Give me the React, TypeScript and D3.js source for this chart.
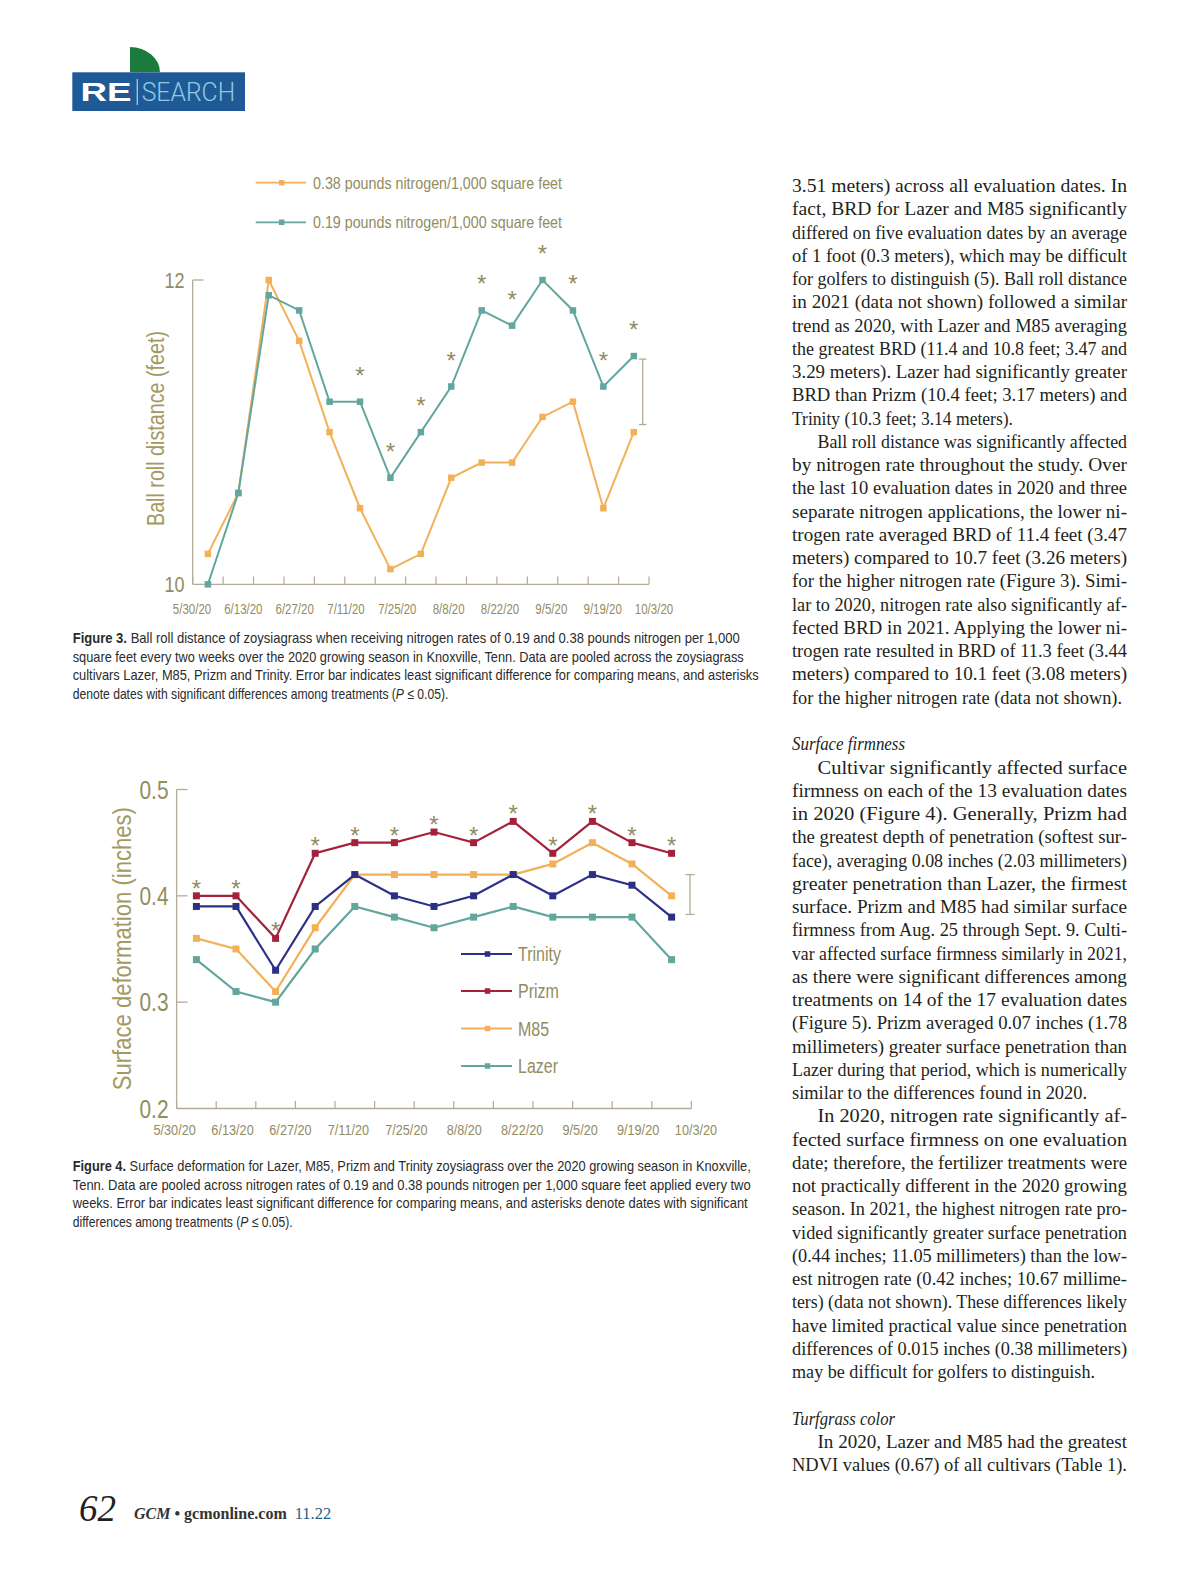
import React from 'react';
import * as d3 from 'd3';

// ---------- DATA ----------
const dateLabels = ['5/30/20', '6/13/20', '6/27/20', '7/11/20', '7/25/20', '8/8/20', '8/22/20', '9/5/20', '9/19/20', '10/3/20'];

// Figure 3: ball roll distance (feet), 15 evaluation dates
const brdHighN = [10.2, 10.6, 12.0, 11.6, 11.0, 10.5, 10.1, 10.2, 10.7, 10.8, 10.8, 11.1, 11.2, 10.5, 11.0];
const brdLowN = [10.0, 10.6, 11.9, 11.8, 11.2, 11.2, 10.7, 11.0, 11.3, 11.8, 11.7, 12.0, 11.8, 11.3, 11.5];
const brdSig = [false, false, false, false, false, true, true, true, true, true, true, true, true, true, true];
const brdLsd = [11.05, 11.48];
const brdTicks = [10, 12];

// Figure 4: surface deformation (inches), 13 evaluation dates
const trinity = [0.39, 0.39, 0.33, 0.39, 0.42, 0.40, 0.39, 0.40, 0.42, 0.40, 0.42, 0.41, 0.38];
const prizm = [0.40, 0.40, 0.36, 0.44, 0.45, 0.45, 0.46, 0.45, 0.47, 0.44, 0.47, 0.45, 0.44];
const m85 = [0.36, 0.35, 0.31, 0.37, 0.42, 0.42, 0.42, 0.42, 0.42, 0.43, 0.45, 0.43, 0.40];
const lazer = [0.34, 0.31, 0.30, 0.35, 0.39, 0.38, 0.37, 0.38, 0.39, 0.38, 0.38, 0.38, 0.34];
const sdSig = [true, true, true, true, true, true, true, true, true, true, true, true, true];
const sdLsd = [0.3825, 0.42];
const sdTicks = [0.2, 0.3, 0.4, 0.5];

const brdSeriesNames = ['0.38 pounds nitrogen/1,000 square feet', '0.19 pounds nitrogen/1,000 square feet'];
const sdSeriesNames = ['Trinity', 'Prizm', 'M85', 'Lazer'];

// ---------- STYLE ----------
const OLIVE = '#928c5f';
const TITLE = '#a39a63';
const AXIS = '#b3ab96';
const ORANGE = '#f2b158';
const TEAL = '#63a69d';
const NAVY = '#2c3085';
const RED = '#a3213b';
const SANS = "'Liberation Sans', Arial, Helvetica, sans-serif";
const SERIF = "'Liberation Serif', 'Times New Roman', serif";
const TEXT = '#231f20';
const NARROW_K = 0.82;

const bodyLines: [string, string, number?][] = [
  ['3.51 meters) across all evaluation dates. In', 'j'],
  ['fact, BRD for Lazer and M85 significantly', 'j'],
  ['differed on five evaluation dates by an average', 'j'],
  ['of 1 foot (0.3 meters), which may be difficult', 'j'],
  ['for golfers to distinguish (5). Ball roll distance', 'j'],
  ['in 2021 (data not shown) followed a similar', 'j'],
  ['trend as 2020, with Lazer and M85 averaging', 'j'],
  ['the greatest BRD (11.4 and 10.8 feet; 3.47 and', 'j'],
  ['3.29 meters). Lazer had significantly greater', 'j'],
  ['BRD than Prizm (10.4 feet; 3.17 meters) and', 'j'],
  ['Trinity (10.3 feet; 3.14 meters).', 'l', 221],
  ['Ball roll distance was significantly affected', 'ji'],
  ['by nitrogen rate throughout the study. Over', 'j'],
  ['the last 10 evaluation dates in 2020 and three', 'j'],
  ['separate nitrogen applications, the lower ni-', 'j'],
  ['trogen rate averaged BRD of 11.4 feet (3.47', 'j'],
  ['meters) compared to 10.7 feet (3.26 meters)', 'j'],
  ['for the higher nitrogen rate (Figure 3). Simi-', 'j'],
  ['lar to 2020, nitrogen rate also significantly af-', 'j'],
  ['fected BRD in 2021. Applying the lower ni-', 'j'],
  ['trogen rate resulted in BRD of 11.3 feet (3.44', 'j'],
  ['meters) compared to 10.1 feet (3.08 meters)', 'j'],
  ['for the higher nitrogen rate (data not shown).', 'l', 330],
  ['', 'b'],
  ['Surface firmness', 'h', 113],
  ['Cultivar significantly affected surface', 'ji'],
  ['firmness on each of the 13 evaluation dates', 'j'],
  ['in 2020 (Figure 4). Generally, Prizm had', 'j'],
  ['the greatest depth of penetration (softest sur-', 'j'],
  ['face), averaging 0.08 inches (2.03 millimeters)', 'j'],
  ['greater penetration than Lazer, the firmest', 'j'],
  ['surface. Prizm and M85 had similar surface', 'j'],
  ['firmness from Aug. 25 through Sept. 9. Culti-', 'j'],
  ['var affected surface firmness similarly in 2021,', 'j'],
  ['as there were significant differences among', 'j'],
  ['treatments on 14 of the 17 evaluation dates', 'j'],
  ['(Figure 5). Prizm averaged 0.07 inches (1.78', 'j'],
  ['millimeters) greater surface penetration than', 'j'],
  ['Lazer during that period, which is numerically', 'j'],
  ['similar to the differences found in 2020.', 'l', 295],
  ['In 2020, nitrogen rate significantly af-', 'ji'],
  ['fected surface firmness on one evaluation', 'j'],
  ['date; therefore, the fertilizer treatments were', 'j'],
  ['not practically different in the 2020 growing', 'j'],
  ['season. In 2021, the highest nitrogen rate pro-', 'j'],
  ['vided significantly greater surface penetration', 'j'],
  ['(0.44 inches; 11.05 millimeters) than the low-', 'j'],
  ['est nitrogen rate (0.42 inches; 10.67 millime-', 'j'],
  ['ters) (data not shown). These differences likely', 'j'],
  ['have limited practical value since penetration', 'j'],
  ['differences of 0.015 inches (0.38 millimeters)', 'j'],
  ['may be difficult for golfers to distinguish.', 'l', 303],
  ['', 'b'],
  ['Turfgrass color', 'h', 103],
  ['In 2020, Lazer and M85 had the greatest', 'ji'],
  ['NDVI values (0.67) of all cultivars (Table 1).', 'j'],
];

const fig3Caption = [
  'Ball roll distance of zoysiagrass when receiving nitrogen rates of 0.19 and 0.38 pounds nitrogen per 1,000',
  'square feet every two weeks over the 2020 growing season in Knoxville, Tenn. Data are pooled across the zoysiagrass',
  'cultivars Lazer, M85, Prizm and Trinity. Error bar indicates least significant difference for comparing means, and asterisks',
  'denote dates with significant differences among treatments (',
];
const fig4Caption = [
  'Surface deformation for Lazer, M85, Prizm and Trinity zoysiagrass over the 2020 growing season in Knoxville,',
  'Tenn. Data are pooled across nitrogen rates of 0.19 and 0.38 pounds nitrogen per 1,000 square feet applied every two',
  'weeks. Error bar indicates least significant difference for comparing means, and asterisks denote dates with significant',
  'differences among treatments (',
];

// condensed sans text (Arial compressed horizontally, like Helvetica Condensed)
function NT({ x, y, size, anchor = 'start', fill, rotate, children, middle }: any) {
  const tr = `translate(${x},${y})${rotate ? ` rotate(${rotate})` : ''} scale(${NARROW_K},1)`;
  return (
    <text transform={tr} x={0} y={0} dy={middle ? '0.36em' : undefined} textAnchor={anchor} fontFamily={SANS} fontSize={size} fill={fill}>
      {children}
    </text>
  );
}

function Caption({ label, lines, x, y0, lh, widths }: any) {
  return (
    <g fontFamily={SANS} fontSize={14.8} fill="#2b2b2b">
      {lines.map((t: string, i: number) => {
        const last = i === lines.length - 1;
        if (last) {
          return (
            <text key={i} transform={`translate(${x},${y0 + i * lh}) scale(${NARROW_K},1)`} x={0} y={0}>
              {t}<tspan fontStyle="italic">P</tspan>{' \u2264 0.05).'}
            </text>
          );
        }
        return (
          <text key={i} x={x} y={y0 + i * lh} textLength={widths[i]} lengthAdjust="spacingAndGlyphs">
            {i === 0 && <tspan fontWeight="bold">{label} </tspan>}
            {t}
          </text>
        );
      })}
    </g>
  );
}

function Marker({ x, y, s, color }: any) {
  return <rect x={x - s / 2} y={y - s / 2} width={s} height={s} fill={color} />;
}

export default function App() {
  // ---------- Figure 3 scales ----------
  const idx1 = d3.range(brdHighN.length);
  const x1 = d3.scaleBand<number>().domain(idx1).range([192.7, 649]).padding(0);
  const cx1 = (i: number) => (x1(i) as number) + x1.bandwidth() / 2;
  const y1 = d3.scaleLinear().domain([10, 12]).range([584.3, 280]);
  const lab1 = d3.scalePoint<string>().domain(dateLabels).range([192, 654]);
  const line1 = d3.line<number>().x((d, i) => cx1(i)).y(d => y1(d));
  const ticks1 = d3.range(brdHighN.length + 1).map(i => 192.7 + i * x1.bandwidth());

  // ---------- Figure 4 scales ----------
  const idx2 = d3.range(prizm.length);
  const x2 = d3.scaleBand<number>().domain(idx2).range([176.6, 691.4]).padding(0);
  const cx2 = (i: number) => (x2(i) as number) + x2.bandwidth() / 2;
  const y2 = d3.scaleLinear().domain([0.2, 0.5]).range([1108.5, 789.5]);
  const lab2 = d3.scalePoint<string>().domain(dateLabels).range([174.6, 696]);
  const line2 = d3.line<number>().x((d, i) => cx2(i)).y(d => y2(d));
  const ticks2 = d3.range(prizm.length + 1).map(i => 176.6 + i * x2.bandwidth());

  const brdSeries = [
    { name: brdSeriesNames[0], values: brdHighN, color: ORANGE },
    { name: brdSeriesNames[1], values: brdLowN, color: TEAL },
  ];
  const sdSeries = [
    { name: sdSeriesNames[0], values: trinity, color: NAVY },
    { name: sdSeriesNames[1], values: prizm, color: RED },
    { name: sdSeriesNames[2], values: m85, color: ORANGE },
    { name: sdSeriesNames[3], values: lazer, color: TEAL },
  ];
  const sdDrawOrder = [3, 2, 0, 1];

  const colX = 792, colW = 335, indent = 25.5, lineH = 23.26, base0 = 192;

  return (
    <svg width={1200} height={1582} style={{ position: 'absolute', left: 0, top: 0, display: 'block' }}>
      <rect width={1200} height={1582} fill="#ffffff" />

      {/* Header logo */}
      <path d="M130,72.3 L130,47 A30,25.3 0 0 1 160,72.3 Z" fill="#1a7b3d" />
      <rect x={72.3} y={72.3} width={172.7} height={38.7} fill="#205a96" />
      <text x={80.5} y={100.7} fontFamily={SANS} fontWeight="bold" fontSize={25.5} fill="#ffffff" textLength={51} lengthAdjust="spacingAndGlyphs">RE</text>
      <line x1={137.3} x2={137.3} y1={79} y2={105} stroke="#8ccbe2" strokeWidth={1.4} />
      <text x={141.7} y={100.7} fontFamily="Roboto, 'Liberation Sans', sans-serif" fontWeight={300} fontSize={25} fill="#8ccbe2" textLength={93.5} lengthAdjust="spacingAndGlyphs">SEARCH</text>

      {/* ---------- Figure 3 ---------- */}
      <g>
        {brdSeries.map((s, k) => {
          const ly = [182.7, 222.3][k];
          return (
            <g key={s.name}>
              <line x1={255.7} x2={306} y1={ly} y2={ly} stroke={s.color} strokeWidth={1.8} />
              <Marker x={281.7} y={ly} s={5.5} color={s.color} />
              <text x={313} y={ly} dy="0.36em" fontFamily={SANS} fontSize={16.5} fill={OLIVE} textLength={249} lengthAdjust="spacingAndGlyphs">{s.name}</text>
            </g>
          );
        })}
        {/* axes */}
        <line x1={192.7} x2={192.7} y1={280} y2={584.3} stroke={AXIS} strokeWidth={1.3} />
        <line x1={192.7} x2={203.5} y1={280} y2={280} stroke={AXIS} strokeWidth={1.3} />
        <line x1={192.7} x2={649} y1={584.3} y2={584.3} stroke={AXIS} strokeWidth={1.3} />
        {ticks1.map((t, i) => (
          <line key={i} x1={t} x2={t} y1={584.3} y2={576.5} stroke={AXIS} strokeWidth={1.2} />
        ))}
        {brdTicks.map(t => (
          <NT key={t} x={184.5} y={y1(t)} middle anchor="end" size={22} fill={OLIVE}>{t}</NT>
        ))}
        {dateLabels.map(l => (
          <NT key={l} x={lab1(l)} y={613.5} anchor="middle" size={14} fill={OLIVE}>{l}</NT>
        ))}
        <text transform="translate(163.5,428.5) rotate(-90)" textAnchor="middle" fontFamily={SANS} fontSize={23} fill={TITLE} textLength={195} lengthAdjust="spacingAndGlyphs">Ball roll distance (feet)</text>
        {/* lines */}
        {brdSeries.map(s => (
          <g key={s.name}>
            <path d={line1(s.values) as string} fill="none" stroke={s.color} strokeWidth={2} />
            {s.values.map((v, i) => <Marker key={i} x={cx1(i)} y={y1(v)} s={6.5} color={s.color} />)}
          </g>
        ))}
        {/* asterisks */}
        {idx1.filter(i => brdSig[i]).map(i => (
          <text key={i} x={cx1(i)} y={y1(Math.max(brdHighN[i], brdLowN[i])) - 18} textAnchor="middle" fontFamily={SANS} fontSize={24} fill={OLIVE}>*</text>
        ))}
        {/* LSD bar */}
        <g stroke={AXIS} strokeWidth={1.3}>
          <line x1={642.7} x2={642.7} y1={y1(brdLsd[0])} y2={y1(brdLsd[1])} />
          <line x1={639} x2={646.4} y1={y1(brdLsd[0])} y2={y1(brdLsd[0])} />
          <line x1={639} x2={646.4} y1={y1(brdLsd[1])} y2={y1(brdLsd[1])} />
        </g>
      </g>

      <Caption label="Figure 3." lines={fig3Caption} x={72.7} y0={643} lh={18.5} widths={[667, 671, 686]} />

      {/* ---------- Figure 4 ---------- */}
      <g>
        <line x1={176.6} x2={176.6} y1={789.5} y2={1108.5} stroke={AXIS} strokeWidth={1.3} />
        <line x1={176.6} x2={691.4} y1={1108.5} y2={1108.5} stroke={AXIS} strokeWidth={1.3} />
        {sdTicks.filter(t => t > 0.2).map(t => (
          <line key={t} x1={176.6} x2={187.5} y1={y2(t)} y2={y2(t)} stroke={AXIS} strokeWidth={1.3} />
        ))}
        {ticks2.map((t, i) => (
          <line key={i} x1={t} x2={t} y1={1108.5} y2={1101} stroke={AXIS} strokeWidth={1.2} />
        ))}
        {sdTicks.map(t => (
          <NT key={t} x={168.5} y={y2(t)} middle anchor="end" size={25.5} fill={OLIVE}>{t.toFixed(1)}</NT>
        ))}
        {dateLabels.map(l => (
          <NT key={l} x={lab2(l)} y={1135} anchor="middle" size={15.5} fill={OLIVE}>{l}</NT>
        ))}
        <text transform="translate(130.5,948.7) rotate(-90)" textAnchor="middle" fontFamily={SANS} fontSize={26.5} fill={TITLE} textLength={283} lengthAdjust="spacingAndGlyphs">Surface deformation (inches)</text>
        {sdDrawOrder.map(k => {
          const s = sdSeries[k];
          return (
            <g key={s.name}>
              <path d={line2(s.values) as string} fill="none" stroke={s.color} strokeWidth={2.2} />
              {s.values.map((v, i) => <Marker key={i} x={cx2(i)} y={y2(v)} s={7} color={s.color} />)}
            </g>
          );
        })}
        {idx2.filter(i => sdSig[i]).map(i => (
          <text key={i} x={cx2(i)} y={y2(Math.max(prizm[i], trinity[i], m85[i], lazer[i])) + 1} textAnchor="middle" fontFamily={SANS} fontSize={24} fill={OLIVE}>*</text>
        ))}
        <g stroke={AXIS} strokeWidth={1.3}>
          <line x1={690} x2={690} y1={y2(sdLsd[0])} y2={y2(sdLsd[1])} />
          <line x1={685.5} x2={694.5} y1={y2(sdLsd[0])} y2={y2(sdLsd[0])} />
          <line x1={685.5} x2={694.5} y1={y2(sdLsd[1])} y2={y2(sdLsd[1])} />
        </g>
        {sdSeries.map((s, k) => {
          const ly = [954, 991, 1028.5, 1066][k];
          return (
            <g key={s.name}>
              <line x1={461} x2={512} y1={ly} y2={ly} stroke={s.color} strokeWidth={2} />
              <Marker x={487.5} y={ly} s={5.5} color={s.color} />
              <NT x={518} y={ly} middle size={19.5} fill={OLIVE}>{s.name}</NT>
            </g>
          );
        })}
      </g>

      <Caption label="Figure 4." lines={fig4Caption} x={72.7} y0={1171} lh={18.5} widths={[678, 678, 675]} />

      {/* ---------- Body column ---------- */}
      <g fontFamily={SERIF} fontSize={19} fill={TEXT}>
        {bodyLines.map(([t, type, w], k) => {
          if (type === 'b') return null;
          const y = base0 + k * lineH;
          if (type === 'h') {
            return <text key={k} x={colX} y={y} fontStyle="italic" textLength={w} lengthAdjust="spacingAndGlyphs">{t}</text>;
          }
          const xs = type === 'ji' ? colX + indent : colX;
          const len = type === 'l' ? w : colX + colW - xs;
          return <text key={k} x={xs} y={y} textLength={len} lengthAdjust="spacingAndGlyphs">{t}</text>;
        })}
      </g>

      {/* ---------- Footer ---------- */}
      <text x={79} y={1520.5} fontFamily={SERIF} fontStyle="italic" fontSize={37} fill={TEXT}>62</text>
      <text x={134} y={1519} fontFamily={SERIF} fontSize={16} fill="#333333">
        <tspan fontStyle="italic" fontWeight="bold">GCM</tspan>
        <tspan fontWeight="bold">{' \u2022 gcmonline.com'}</tspan>
        <tspan dx={8} fill="#2b5a7c" fontSize={16.5}>11.22</tspan>
      </text>
    </svg>
  );
}
